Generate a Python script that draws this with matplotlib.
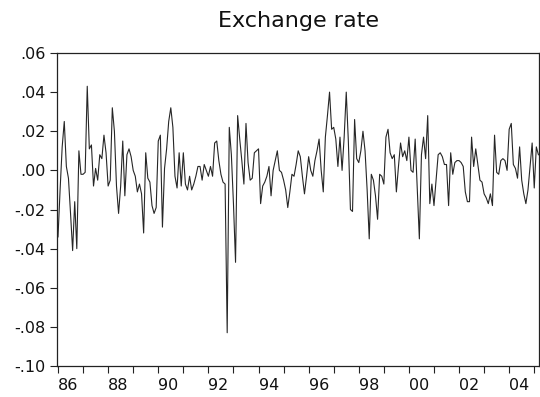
import matplotlib
matplotlib.use("Agg")
import matplotlib.pyplot as plt
import numpy as np

title = "Exchange rate"
start_year = 1986
# monthly values starting 1986:01
values = [
    -0.034, -0.010, 0.012, 0.025, 0.002, -0.004, -0.022, -0.041, -0.016, -0.040,
    0.010, -0.002, -0.002, -0.001, 0.043, 0.011, 0.013, -0.008, 0.001, -0.005,
    0.008, 0.006, 0.018, 0.009, -0.008, -0.005, 0.032, 0.020, -0.008, -0.022,
    -0.008, 0.015, -0.013, 0.008, 0.011, 0.007, 0.000, -0.003, -0.011, -0.007,
    -0.012, -0.032, 0.009, -0.004, -0.006, -0.018, -0.022, -0.019, 0.015, 0.018,
    -0.029, 0.001, 0.011, 0.025, 0.032, 0.022, -0.003, -0.009, 0.009, -0.008,
    0.009, -0.007, -0.010, -0.003, -0.010, -0.007, -0.003, 0.002, 0.002, -0.005,
    0.003, 0.000, -0.003, 0.002, -0.003, 0.014, 0.015, 0.005, -0.002, -0.006,
    -0.007, -0.083, 0.022, 0.008, -0.017, -0.047, 0.028, 0.016, 0.005, -0.007,
    0.024, 0.004, -0.005, -0.004, 0.009, 0.010, 0.011, -0.017, -0.008, -0.006,
    -0.003, 0.002, -0.013, 0.000, 0.005, 0.010, 0.000, -0.001, -0.005, -0.010,
    -0.019, -0.011, -0.002, -0.003, 0.003, 0.010, 0.007, -0.003, -0.012, -0.003,
    0.007, 0.000, -0.003, 0.005, 0.010, 0.016, 0.000, -0.011, 0.017, 0.028,
    0.040, 0.021, 0.022, 0.016, 0.002, 0.017, 0.000, 0.017, 0.040, 0.015,
    -0.020, -0.021, 0.026, 0.006, 0.004, 0.010, 0.020, 0.010, -0.010, -0.035,
    -0.002, -0.005, -0.013, -0.025, -0.002, -0.003, -0.007, 0.017, 0.021, 0.009,
    0.006, 0.008, -0.011, 0.002, 0.014, 0.007, 0.010, 0.005, 0.017, 0.000,
    -0.001, 0.016, -0.010, -0.035, 0.008, 0.017, 0.006, 0.028, -0.017, -0.007,
    -0.018, -0.005, 0.008, 0.009, 0.007, 0.003, 0.003, -0.018, 0.009, -0.002,
    0.004, 0.005, 0.005, 0.004, 0.002, -0.011, -0.016, -0.016, 0.017, 0.002,
    0.011, 0.003, -0.005, -0.006, -0.012, -0.014, -0.017, -0.012, -0.018, 0.018,
    -0.001, -0.002, 0.005, 0.006, 0.005, 0.000, 0.021, 0.024, 0.003, 0.001,
    -0.004, 0.012, -0.005, -0.012, -0.017, -0.010, 0.002, 0.014, -0.009, 0.012,
    0.008,
]
y_ticks = [0.06, 0.04, 0.02, 0.00, -0.02, -0.04, -0.06, -0.08, -0.10]
y_tick_labels = [".06", ".04", ".02", ".00", "-.02", "-.04", "-.06", "-.08", "-.10"]
year_ticks = list(range(1986, 2006))
label_years = list(range(1986, 2005, 2))

plt.rcParams['font.family'] = ['DejaVu Sans']

t = start_year + np.arange(len(values)) / 12.0

fig = plt.figure(figsize=(5.40, 3.97), dpi=100)
ax = fig.add_axes([57/540, 1 - 366/397, (539 - 57)/540, (366 - 53)/397])
ax.plot(t, values, color="#262626", lw=0.8)

ax.set_xlim(1985.96, 2005.19)
ax.set_ylim(-0.10, 0.06)
ax.set_yticks(y_ticks)
ax.set_yticklabels(y_tick_labels, fontsize=11.5)
ax.set_xticks(year_ticks)
ax.set_xticklabels([f"{y % 100:02d}" if y in label_years else "" for y in year_ticks],
                   fontsize=11.5, ha="left")
ax.tick_params(axis="both", direction="out", length=5, width=0.8, color="#222222", labelcolor="#111111")
ax.tick_params(axis="x", pad=3.5)
ax.tick_params(axis="y", pad=3.5)
for s in ax.spines.values():
    s.set_linewidth(0.9)
    s.set_color("#222222")

fig.text(299/540, 1 - 27/397, title, ha="center", va="baseline", fontsize=16, color="#111111")

fig.savefig("out.png", dpi=100)
